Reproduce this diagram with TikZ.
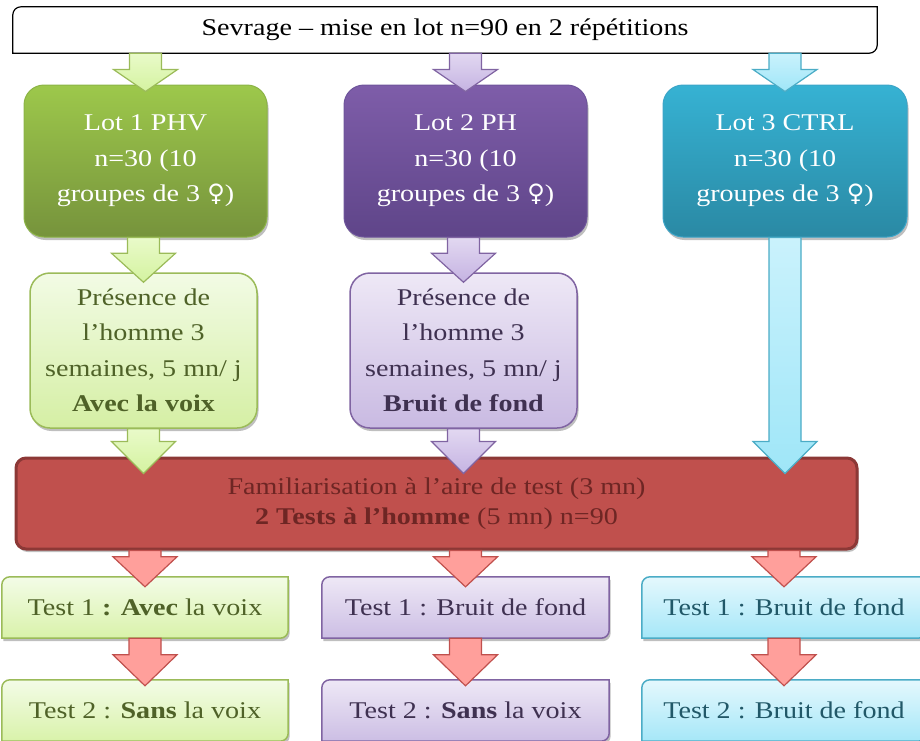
\documentclass[tikz,border=0pt]{standalone}
\usepackage{fontspec}
\setmainfont[FakeStretch=1.17]{Liberation Serif}
\newfontfamily\symf{DejaVu Sans}
\newcommand\fem{{\symf ♀}}
\usetikzlibrary{calc,shadows}
\definecolor{gBord}{HTML}{9BBB59}
\definecolor{gText}{HTML}{4F6228}
\definecolor{pBord}{HTML}{8064A2}
\definecolor{pText}{HTML}{3F3151}
\definecolor{cBord}{HTML}{4BACC6}
\definecolor{cText}{HTML}{215868}
\definecolor{rFill}{HTML}{C0504D}
\definecolor{rBord}{HTML}{8C3836}
\definecolor{rText}{HTML}{6E2624}
\definecolor{rArrow}{HTML}{FF9F9B}
\pgfdeclarelayer{bg}\pgfsetlayers{bg,main}
\newcommand\diagbg[2]{%
  \begin{pgfonlayer}{bg}
  \path[#2] let \p1=(#1.south west), \p2=(#1.north east) in
    (\x1,\y1) -- (\x1,\y2-8pt) .. controls (\x1,\y2-3.6pt) and (\x1+3.6pt,\y2) .. (\x1+8pt,\y2)
    -- (\x2,\y2) -- (\x2,\y1+8pt) .. controls (\x2,\y1+3.6pt) and (\x2-3.6pt,\y1) .. (\x2-8pt,\y1) -- cycle;
  \end{pgfonlayer}}
% #1 source, #2 target, #3 x reference, #4 style, #5 head start above target, #6 tip below target top
\newcommand\barrow[6]{%
  \path[#4] let \p0=(#3.center), \p1=(#1.south), \p2=(#2.north) in
    (\x0-16pt,\y1) -- (\x0-16pt,\y2+#5) -- (\x0-32pt,\y2+#5) -- (\x0,\y2-#6)
    -- (\x0+32pt,\y2+#5) -- (\x0+16pt,\y2+#5) -- (\x0+16pt,\y1) -- cycle;}
\begin{document}
\begin{tikzpicture}[x=1pt,y=-1pt,
  txt/.style={font=\fontsize{24}{35.5}\selectfont, align=center, inner sep=0pt},
  shad/.style={drop shadow={shadow xshift=1.5pt,shadow yshift=-3pt,opacity=0.25,fill=black}},
  lotbox/.style={txt, text=white, rounded corners=20pt, minimum width=243pt, minimum height=152pt, line width=1pt, shad},
  presbox/.style={txt, rounded corners=20pt, minimum width=227pt, minimum height=155pt, line width=1.5pt, shad},
  testbox/.style={txt, minimum width=286pt, minimum height=61pt},
  tbg/.style={line width=1.5pt, shad},
  garrow/.style={draw=gBord, line width=1.2pt, top color={rgb,255:red,233;green,250;blue,201}, bottom color={rgb,255:red,212;green,243;blue,160}},
  parrow/.style={draw=pBord, line width=1.2pt, top color={rgb,255:red,226;green,216;blue,241}, bottom color={rgb,255:red,197;green,179;blue,226}},
  carrow/.style={draw=cBord, line width=1.2pt, top color={rgb,255:red,202;green,242;blue,252}, bottom color={rgb,255:red,159;green,230;blue,248}},
  rarrow/.style={draw=rFill, line width=1.2pt, fill=rArrow}
]
\useasboundingbox (0,0) rectangle (920,740);

% top box
\node[txt, minimum width=864pt, minimum height=46pt] (top) at (445,30) {Sevrage – mise en lot n=90 en 2 répétitions};
\diagbg{top}{draw=black, line width=1.2pt, fill=white}

% lots
\node[lotbox, draw={rgb,255:red,140;green,180;blue,70}, top color={rgb,255:red,157;green,200;blue,75}, bottom color={rgb,255:red,118;green,147;blue,60}] (l1) at (145.5,161) {Lot 1 PHV\\n=30 (10\\groupes de 3 \fem)};
\node[lotbox, draw={rgb,255:red,110;green,85;blue,155}, top color={rgb,255:red,126;green,93;blue,169}, bottom color={rgb,255:red,95;green,69;blue,137}] (l2) at (465.5,161) {Lot 2 PH\\n=30 (10\\groupes de 3 \fem)};
\node[lotbox, draw={rgb,255:red,60;green,165;blue,200}, top color={rgb,255:red,54;green,178;blue,211}, bottom color={rgb,255:red,42;green,137;blue,164}, minimum width=244pt] (l3) at (785,161) {Lot 3 CTRL\\n=30 (10\\groupes de 3 \fem)};

% presence
\node[presbox, draw=gBord, text=gText, top color={rgb,255:red,242;green,251;blue,229}, bottom color={rgb,255:red,213;green,239;blue,164}] (p1) at (143.5,350.5) {Présence de\\l’homme 3\\semaines, 5 mn/ j\\\textbf{Avec la voix}};
\node[presbox, draw=pBord, text=pText, top color={rgb,255:red,238;green,232;blue,246}, bottom color={rgb,255:red,201;green,186;blue,226}] (p2) at (463.5,350.5) {Présence de\\l’homme 3\\semaines, 5 mn/ j\\\textbf{Bruit de fond}};

% familiarisation
\node[txt, text=rText, fill=rFill, draw=rBord, line width=3pt, rounded corners=10pt, minimum width=841pt, minimum height=91pt, shad] (fam) at (436.5,503.5) {Familiarisation à l’aire de test (3 mn)\\[-5pt]\textbf{2 Tests à l’homme} (5 mn) n=90};

% tests
\node[testbox, text=gText] (t1a) at (145,607.5) {Test 1 \textbf{: Avec} la voix};
\node[testbox, text=pText, minimum width=287pt] (t1b) at (465.5,607.5) {Test 1 : Bruit de fond};
\node[testbox, text=cText, minimum width=284pt] (t1c) at (784,607.5) {Test 1 : Bruit de fond};
\node[testbox, text=gText] (t2a) at (145,710.5) {Test 2 : \textbf{Sans} la voix};
\node[testbox, text=pText, minimum width=287pt] (t2b) at (465.5,710.5) {Test 2 : \textbf{Sans} la voix};
\node[testbox, text=cText, minimum width=284pt] (t2c) at (784,710.5) {Test 2 : Bruit de fond};
\diagbg{t1a}{tbg, draw=gBord, top color={rgb,255:red,243;green,252;blue,231}, bottom color={rgb,255:red,217;green,242;blue,170}}
\diagbg{t2a}{tbg, draw=gBord, top color={rgb,255:red,243;green,252;blue,231}, bottom color={rgb,255:red,217;green,242;blue,170}}
\diagbg{t1b}{tbg, draw=pBord, top color={rgb,255:red,238;green,232;blue,246}, bottom color={rgb,255:red,204;green,190;blue,228}}
\diagbg{t2b}{tbg, draw=pBord, top color={rgb,255:red,238;green,232;blue,246}, bottom color={rgb,255:red,204;green,190;blue,228}}
\diagbg{t1c}{tbg, draw=cBord, top color={rgb,255:red,228;green,248;blue,253}, bottom color={rgb,255:red,166;green,231;blue,248}}
\diagbg{t2c}{tbg, draw=cBord, top color={rgb,255:red,228;green,248;blue,253}, bottom color={rgb,255:red,166;green,231;blue,248}}

% arrows
\barrow{top}{l1}{l1}{garrow}{15pt}{7pt}
\barrow{top}{l2}{l2}{parrow}{15pt}{7pt}
\barrow{top}{l3}{l3}{carrow}{15pt}{7pt}
\barrow{l1}{p1}{p1}{garrow}{19pt}{10pt}
\barrow{l2}{p2}{p2}{parrow}{19pt}{10pt}
\barrow{p1}{fam}{p1}{garrow}{15pt}{17pt}
\barrow{p2}{fam}{p2}{parrow}{15pt}{17pt}
\barrow{l3}{fam}{l3}{carrow}{15pt}{17pt}
\barrow{fam}{t1a}{t1a}{rarrow}{20pt}{10pt}
\barrow{fam}{t1b}{t1b}{rarrow}{20pt}{10pt}
\barrow{fam}{t1c}{t1c}{rarrow}{20pt}{10pt}
\barrow{t1a}{t2a}{t2a}{rarrow}{25pt}{6pt}
\barrow{t1b}{t2b}{t2b}{rarrow}{25pt}{6pt}
\barrow{t1c}{t2c}{t2c}{rarrow}{25pt}{6pt}
\end{tikzpicture}
\end{document}
